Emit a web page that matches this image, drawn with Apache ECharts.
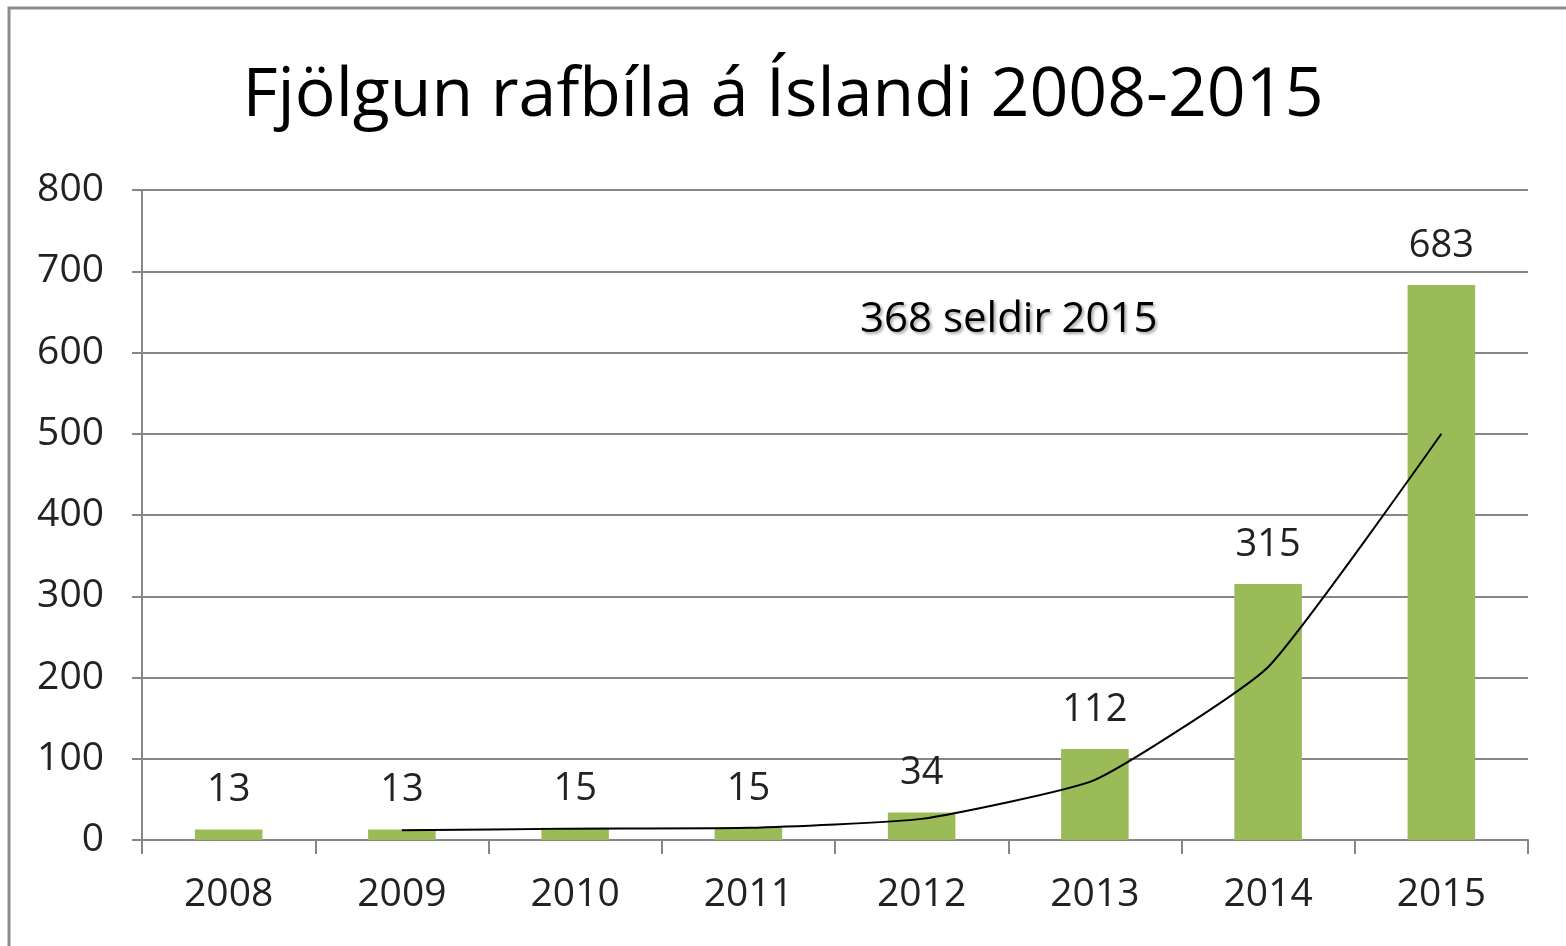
<!DOCTYPE html>
<html>
<head>
<meta charset="utf-8">
<script src="https://cdn.jsdelivr.net/npm/echarts@6/dist/echarts.min.js"></script>
<style>
  html, body { margin: 0; padding: 0; background: #fff; }
  #chart { width: 1566px; height: 946px; }
</style>
</head>
<body>
<div id="chart"></div>
<script>
// gögn
var years = ['2008', '2009', '2010', '2011', '2012', '2013', '2014', '2015'];
var bilar = [13, 13, 15, 15, 34, 112, 315, 683];
var ferill = [null, 12, 14, 15, 26, 74, 213, 500];
var yTicks = [0, 100, 200, 300, 400, 500, 600, 700, 800];

var chart = echarts.init(document.getElementById('chart'));
var font = 'Open Sans';

var option = {
    backgroundColor: '#fff',
    animation: false,
    title: {
        text: 'Fjölgun rafbíla á Íslandi 2008-2015',
        left: 'center',
        top: 58,
        textStyle: { fontFamily: font, fontSize: 68, fontWeight: 'normal', color: '#000' }
    },
    grid: { left: 142, right: 38, top: 190, bottom: 106 },
    xAxis: {
        type: 'category',
        data: years,
        axisLine: { lineStyle: { color: '#868686', width: 2 } },
        axisTick: { show: true, length: 14, lineStyle: { color: '#868686', width: 2 } },
        axisLabel: { fontFamily: font, fontSize: 39, color: '#222', margin: 35 }
    },
    yAxis: {
        type: 'value',
        min: yTicks[0],
        max: yTicks[yTicks.length - 1],
        interval: 100,
        axisLine: { show: true, lineStyle: { color: '#868686', width: 2 } },
        axisTick: { show: true, length: 10, lineStyle: { color: '#868686', width: 2 } },
        splitLine: { lineStyle: { color: '#868686', width: 2 } },
        axisLabel: { fontFamily: font, fontSize: 39, color: '#222', margin: 38 }
    },
    series: [{
        name: 'Rafbílar',
        type: 'bar',
        data: bilar,
        barWidth: '39%',
        itemStyle: { color: '#9BBB59' },
        label: {
            show: true,
            position: 'top',
            distance: 20,
            fontFamily: font,
            fontSize: 38,
            color: '#222'
        }
    }, {
        name: 'Ferill',
        type: 'line',
        data: ferill,
        smooth: 0.15,
        symbol: 'none',
        lineStyle: { color: '#000', width: 2 },
        z: 5
    }],
    graphic: [{
        type: 'rect',
        shape: { x: 9, y: 8, width: 1580, height: 960 },
        style: { fill: 'none', stroke: '#8c8c8c', lineWidth: 3 },
        silent: true
    }, {
        type: 'text',
        left: 860,
        top: 299,
        style: {
            text: '368 seldir 2015',
            font: '42px "Open Sans"',
            fill: '#000',
            textShadowColor: 'rgba(0,0,0,0.35)',
            textShadowBlur: 3,
            textShadowOffsetX: 2,
            textShadowOffsetY: 2
        }
    }]
};

chart.setOption(option);
</script>
</body>
</html>
